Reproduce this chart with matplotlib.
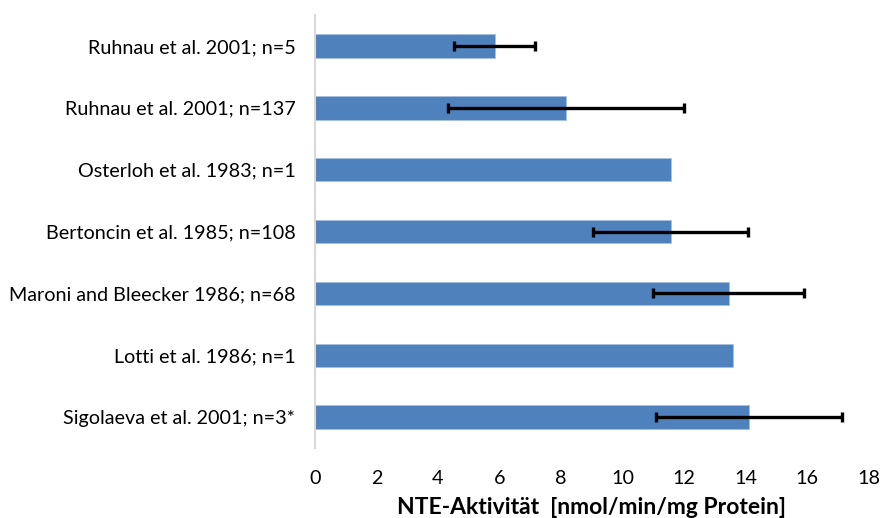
import numpy as np
import matplotlib
matplotlib.use('Agg')
from matplotlib import pyplot as plt

# Studien (von oben nach unten) und mittlere NTE-Aktivität mit Standardabweichung
studies = ['Ruhnau et al. 2001; n=5',
           'Ruhnau et al. 2001; n=137',
           'Osterloh et al. 1983; n=1',
           'Bertoncin et al. 1985; n=108',
           'Maroni and Bleecker 1986; n=68',
           'Lotti et al. 1986; n=1',
           'Sigolaeva et al. 2001; n=3*']
nte_mean = [5.84, 8.15, 11.57, 11.57, 13.45, 13.6, 14.1]
nte_sd = [1.31, 3.84, np.nan, 2.52, 2.45, np.nan, 3.03]

plt.rcParams['font.family'] = ['Lato', 'DejaVu Sans']

fig = plt.figure(figsize=(8.82, 5.18), dpi=100)
ax = fig.add_axes([0.357, 0.135, 0.628, 0.836])

ypos = np.arange(len(studies))
ax.barh(ypos, nte_mean, height=0.38, color='#4F81BD', edgecolor='#a9c1e0', linewidth=0.6)

# Fehlerbalken nur dort, wo eine SD angegeben ist
sd = np.array(nte_sd)
has_sd = ~np.isnan(sd)
ax.errorbar(np.array(nte_mean)[has_sd], ypos[has_sd], xerr=sd[has_sd], fmt='none',
            ecolor='black', elinewidth=2.4, capsize=3.5, capthick=2.4)

ax.set_ylim(6.5, -0.5)
ax.set_xlim(0, 18)
ax.set_xticks(np.arange(0, 19, 2))
ax.set_yticks(ypos)
ax.set_yticklabels(studies)

for s in ['top', 'right', 'bottom']:
    ax.spines[s].set_visible(False)
ax.spines['left'].set_color('#d9d9d9')
ax.spines['left'].set_linewidth(1.5)
ax.tick_params(axis='both', length=0, labelsize=14.2, colors='black')
ax.tick_params(axis='y', pad=14)
ax.tick_params(axis='x', pad=16)

ax.set_xlabel('NTE-Aktivität  [nmol/min/mg Protein]', fontsize=16.5, fontweight='bold', labelpad=7)

plt.savefig('out.png', dpi=100)
